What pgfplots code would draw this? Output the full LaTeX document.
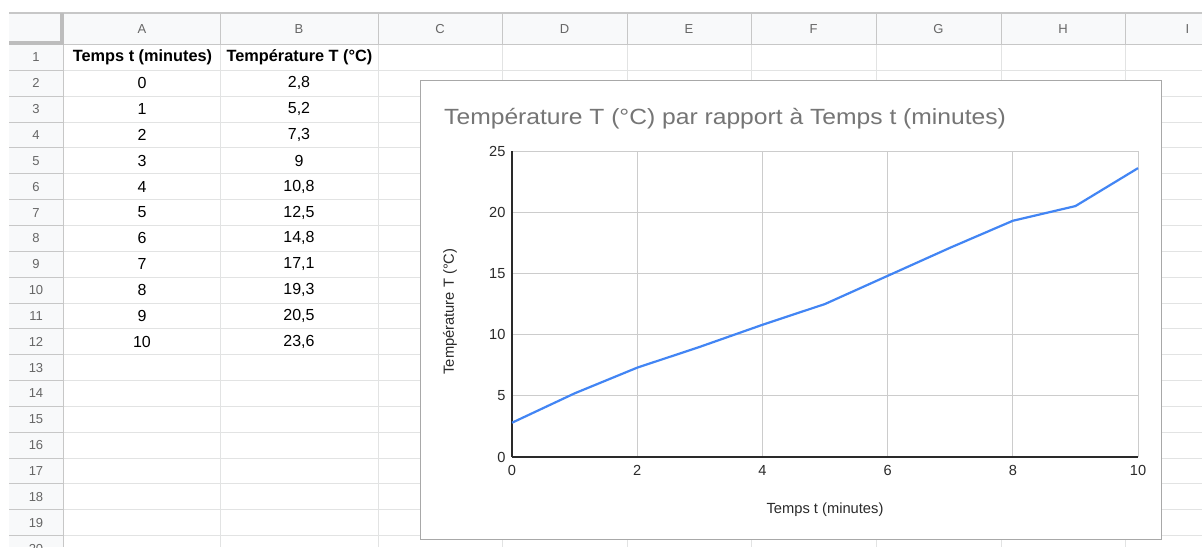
\documentclass[border=0pt]{standalone}
\usepackage{pgfplots}
\pgfplotsset{compat=1.18}
\usepackage{fontspec}
\setmainfont{Liberation Sans}
\definecolor{hdrbg}{HTML}{F8F9FA}
\definecolor{hdrline}{HTML}{C7C7C7}
\definecolor{cellgrid}{HTML}{E2E3E3}
\definecolor{frozen}{HTML}{BDBDBD}
\definecolor{hdrtext}{HTML}{666666}
\definecolor{chartborder}{HTML}{A8A8A8}
\definecolor{charttitle}{HTML}{757575}
\definecolor{gblue}{HTML}{4285F4}
\definecolor{gridc}{HTML}{CCCCCC}
\definecolor{ticktext}{HTML}{2A2A2A}
\pgfplotstableread{
t T
0 2.8
1 5.2
2 7.3
3 9
4 10.8
5 12.5
6 14.8
7 17.1
8 19.3
9 20.5
10 23.6
}\datatable
\begin{document}
\begin{tikzpicture}
\begin{scope}[x=1pt,y=1pt]
\path[use as bounding box] (0,0) rectangle (1202,-547);
\clip (0,0) rectangle (1202,-547);
\fill[white] (0,0) rectangle (1202,-547);
\fill[hdrbg] (9,-13.3) rectangle (1202,-44.5);
\fill[hdrbg] (9,-44.5) rectangle (63,-547);
% cell grid
\foreach \k in {1,...,20} {
  \draw[cellgrid, line width=1] (63,{-44.5-\k*25.85}) -- (1202,{-44.5-\k*25.85});
  \draw[hdrline, line width=1] (9,{-44.5-\k*25.85}) -- (63,{-44.5-\k*25.85});
}
\foreach \x in {220,378,502,627,751,876,1001,1125} {
  \draw[cellgrid, line width=1] (\x,-44.5) -- (\x,-547);
  \draw[hdrline, line width=1] (\x,-13.3) -- (\x,-44.5);
}
\draw[hdrline, line width=1.8] (9,-13.3) -- (1202,-13.3);
\draw[hdrline, line width=1.6] (63,-44.5) -- (1202,-44.5);
\draw[hdrline, line width=1] (63,-44.5) -- (63,-547);
\fill[frozen] (60,-13.3) rectangle (64,-45);
\fill[frozen] (9,-41) rectangle (64,-45);
% column letters
\foreach \c/\x in {A/142,B/299,C/440,D/564.5,E/689,F/813.5,G/938.5,H/1063,I/1187.5} {
  \node[text=hdrtext, font=\fontsize{13}{15}\selectfont] at (\x,-28.7) {\c};
}
% row numbers
\foreach \i in {1,...,20} {
  \node[text=hdrtext, font=\fontsize{13}{15}\selectfont] at (36,{-44.5-(\i-0.5)*25.85}) {\i};
}
% cells
\node[font=\fontsize{16.3}{19}\selectfont\bfseries] at (142.5,{-44.5-0.5*25.85}) {Temps t (minutes)};
\node[font=\fontsize{16.3}{19}\selectfont\bfseries] at (299.5,{-44.5-0.5*25.85}) {Température T (°C)};
\foreach \r/\a/\b in {2/0/{2,8},3/1/{5,2},4/2/{7,3},5/3/9,6/4/{10,8},7/5/{12,5},8/6/{14,8},9/7/{17,1},10/8/{19,3},11/9/{20,5},12/10/{23,6}} {
  \node[font=\fontsize{16}{19}\selectfont] at (142,{-44.5-(\r-0.5)*25.85}) {\a};
  \node[font=\fontsize{16}{19}\selectfont] at (299,{-44.5-(\r-0.5)*25.85}) {\b};
}
% chart box
\filldraw[fill=white, draw=chartborder, line width=1.2] (420.5,-80.5) rectangle (1161.5,-539.5);
\end{scope}
\begin{axis}[
  at={(512pt,-457pt)}, anchor=south west,
  scale only axis, width=626pt, height=306pt,
  xmin=0, xmax=10, ymin=0, ymax=25,
  xtick={0,2,...,10}, ytick={0,5,...,25},
  grid=major,
  major grid style={draw=gridc, line width=1pt},
  axis x line*=bottom, axis y line*=left,
  axis line style={-, draw=ticktext, line width=1.3pt},
  major tick length=0pt,
  tick style={draw=none},
  /pgf/number format/assume math mode=true,
  ticklabel style={font=\fontsize{14.6}{16}\selectfont, text=ticktext},
  xticklabel style={yshift=-5pt},
  yticklabel style={xshift=-3pt},
  title={Température T (°C) par rapport à Temps t (minutes)},
  title style={at={(axis description cs:-0.1086,1.0677)}, anchor=base west,
    font=\fontsize{22}{26}\selectfont, text=charttitle, inner sep=0pt, xscale=1.12},
  xlabel={Temps t (minutes)},
  xlabel style={at={(axis description cs:0.5,-0.173)}, anchor=center,
    font=\fontsize{14.7}{16}\selectfont, text=ticktext},
  ylabel={Température T (°C)},
  ylabel style={at={(axis description cs:-0.099,0.4755)}, anchor=center,
    font=\fontsize{14.7}{16}\selectfont, text=ticktext},
  clip=false,
]
\addplot[gblue, line width=2.2pt, no marks, line join=round] table[x=t, y=T] {\datatable};
\end{axis}
\end{tikzpicture}
\end{document}
